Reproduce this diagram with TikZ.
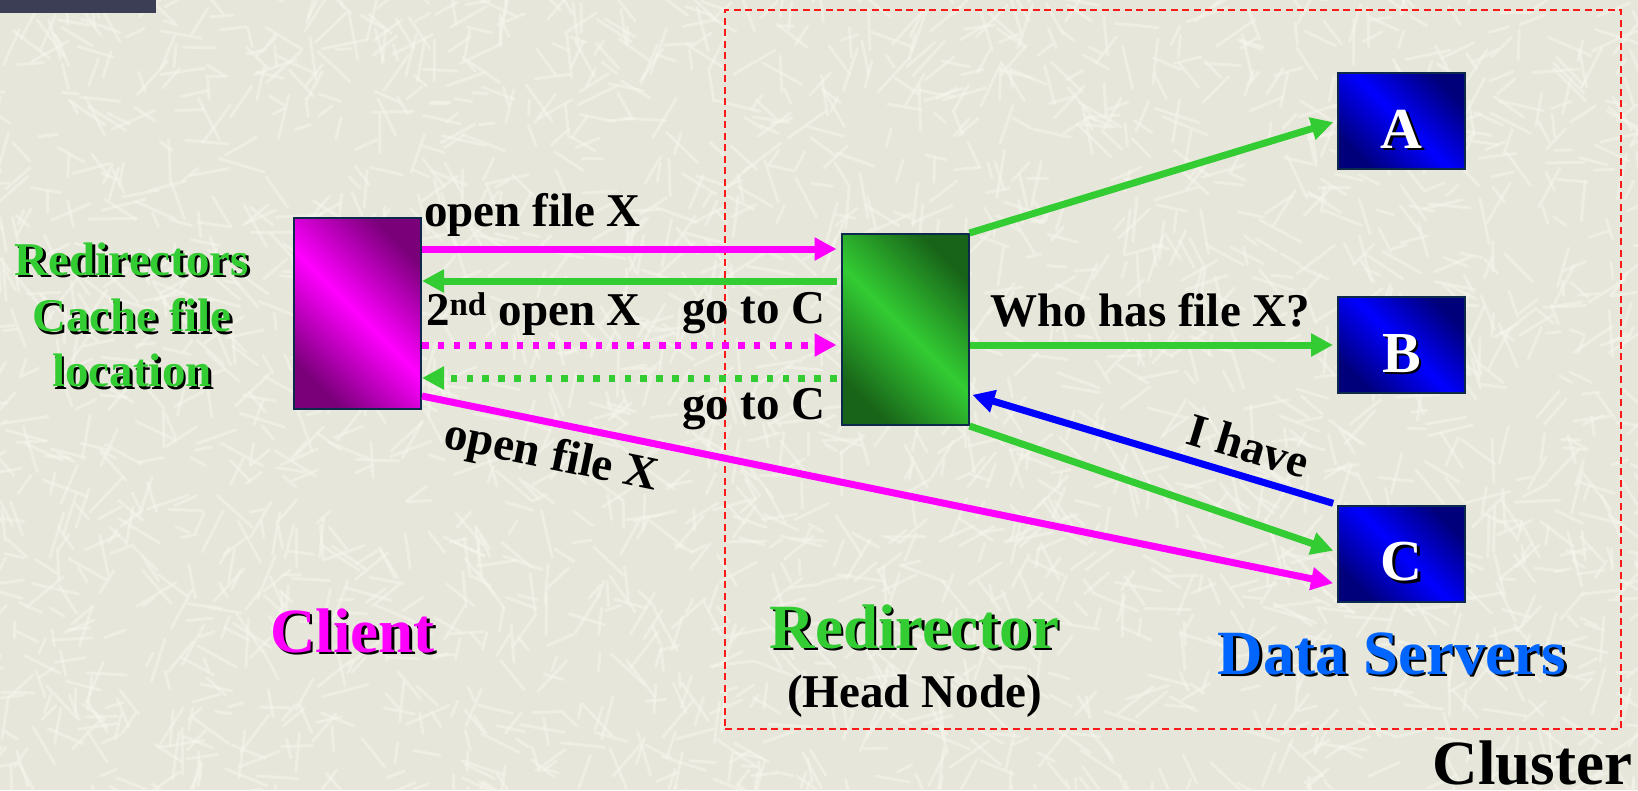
\documentclass[tikz,border=0pt]{standalone}
\usepackage{fontspec}
\setmainfont{Liberation Serif}
\usetikzlibrary{arrows.meta}

\definecolor{bg}{HTML}{E6E6DA}
\definecolor{streak}{HTML}{F6F6EE}
\definecolor{mag}{HTML}{FF00FF}
\definecolor{magdk}{HTML}{7A007A}
\definecolor{grn}{HTML}{33CC33}
\definecolor{grndk}{HTML}{186418}
\definecolor{blu}{HTML}{0000FF}
\definecolor{bludk}{HTML}{00007A}
\definecolor{edge}{HTML}{0D2A4D}
\definecolor{dsblue}{HTML}{0066FF}
\definecolor{bar}{HTML}{3B3E55}
\definecolor{clus}{HTML}{FF1A1A}

% coloured text with a black drop shadow
\newcommand\shadowed[2]{\rlap{\kern2.5pt\raisebox{-2.5pt}{\color{black}#2}}{\color{#1}#2}}

\begin{document}
\begin{tikzpicture}[x=1pt,y=-1pt,
  bx/.style={draw=edge, line width=2pt, inner sep=0pt,
             minimum width=127pt, minimum height=191pt},
  srv/.style={bx, minimum height=96pt,
             left color=bludk, right color=bludk, middle color=blu, shading angle=-45},
  arr/.style={line width=7pt, -{Triangle[length=22pt,width=22pt]}},
  dotline/.style={dash pattern=on 6.5pt off 9.3pt},
  lbl/.style={font=\fontsize{47}{56}\selectfont\bfseries, inner sep=0pt, anchor=base west},
  note/.style={font=\fontsize{47}{56}\selectfont\bfseries, inner sep=0pt, anchor=base},
  big/.style={font=\fontsize{63}{70}\selectfont\bfseries, inner sep=0pt, anchor=base},
  srvtxt/.style={font=\fontsize{58}{64}\selectfont\bfseries, inner sep=0pt, anchor=base}]

\useasboundingbox (0,0) rectangle (1638,790);

% textured paper background
\fill[bg] (0,0) rectangle (1638,790);
\pgfmathsetseed{4242}
\foreach \i in {1,...,2600}{
  \pgfmathsetmacro\px{rnd*1680-20}
  \pgfmathsetmacro\py{rnd*830-20}
  \pgfmathsetmacro\pa{rnd*180}
  \pgfmathsetmacro\pl{14+rnd*34}
  \draw[streak, line width=3pt, line cap=round, opacity=.5] (\px,\py) -- ++(\pa:\pl);
}
\fill[bar] (0,0) rectangle (156,13);

% cluster frame
\node[draw=clus, line width=2pt, dash pattern=on 7pt off 4.5pt, inner sep=0pt,
      minimum width=896pt, minimum height=719pt] (cluster) at (1173,369.5) {};

% client, redirector and data servers
\node[bx, left color=magdk, right color=magdk, middle color=mag, shading angle=-45]
  (client) at (357.5,313.5) {};
\node[bx, left color=grndk, right color=grndk, middle color=grn, shading angle=-45]
  (redir) at (905,329.5) {};
\node[srv] (srvA) at (1401.5,121) {};
\node[srv] (srvB) at (1401.5,345) {};
\node[srv] (srvC) at (1401.5,553.5) {};

\node[srvtxt] (tA) at ([yshift=-27pt]srvA.center) {\shadowed{white}{A}};
\node[srvtxt] (tB) at ([yshift=-27pt]srvB.center) {\shadowed{white}{B}};
\node[srvtxt] (tC) at ([yshift=-27pt]srvC.center) {\shadowed{white}{C}};

% client <-> redirector exchanges
\draw[arr, mag, shorten >=4pt] (client.east |- 0,249) -- (redir.west |- 0,249);
\draw[arr, grn, shorten <=4pt] (redir.west |- 0,281) -- (client.east |- 0,281);
\draw[arr, mag, dotline, shorten >=4pt] (client.east |- 0,345) -- (redir.west |- 0,345);
\draw[arr, grn, dotline, shorten <=4pt] (redir.west |- 0,378) -- (client.east |- 0,378);

% client opens the file on server C directly
\draw[arr, mag, shorten >=4pt] (client.east |- 0,396) -- (srvC.west |- 0,584);

% redirector queries the data servers
\draw[arr, grn, shorten >=4pt] (redir.north east) -- (srvA.west);
\draw[arr, grn, shorten >=4pt] (redir.east |- 0,345) -- (srvB.west);
\draw[arr, grn, shorten >=4pt] (redir.south east) -- (srvC.west |- 0,552);
\draw[arr, blu, shorten <=4pt, shorten >=3pt] (srvC.north west) -- (redir.east |- 0,394);

% connector labels
\node[lbl] (tOpen1) at (424,226) {open file X};
\node[lbl] (tOpen2) at (426,325) {2\textsuperscript{nd} open X};
\node[lbl] (tGo1) at (682,323) {go to C};
\node[lbl] (tGo2) at (682,419) {go to C};
\node[lbl] (tWho) at (990,326) {Who has file X?};
\node[lbl, anchor=base, rotate=-11.6] (tOpen3) at (549,469) {open file X};
\node[lbl, anchor=base, rotate=-16.8] (tHave) at (1244,461) {I have};

% side note
\node[note] (tNote1) at (132,275) {\shadowed{grn}{Redirectors}};
\node[note] (tNote2) at (132,331.5) {\shadowed{grn}{Cache file}};
\node[note] (tNote3) at (132,386.5) {\shadowed{grn}{location}};

% group titles
\node[big] (tClient) at (352.5,652) {\shadowed{mag}{Client}};
\node[big] (tRedir) at (914.5,648) {\shadowed{grn}{Redirector}};
\node[lbl, anchor=base] (tHead) at (914.5,707) {(Head Node)};
\node[big] (tData) at (1392,674) {\shadowed{dsblue}{Data Servers}};
\node[big] (tCluster) at (1532.5,784) {Cluster};
\end{tikzpicture}
\end{document}
